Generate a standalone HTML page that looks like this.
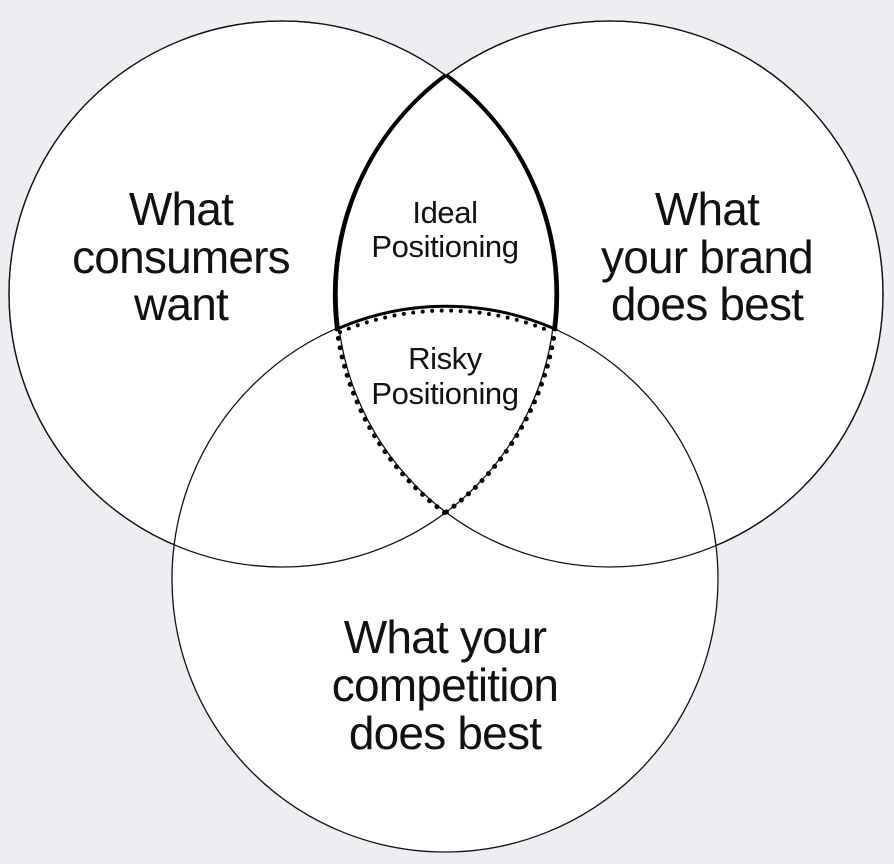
<!DOCTYPE html>
<html><head><meta charset="utf-8"><style>
html,body{margin:0;padding:0;background:#eceef2;}
svg{display:block}
text{font-family:"Liberation Sans",sans-serif;fill:#111;text-anchor:middle}
.b{font-size:46px;letter-spacing:-0.8px}
.s{font-size:31px;letter-spacing:-0.4px}
</style></head><body>
<svg width="894" height="864" viewBox="0 0 894 864" xmlns="http://www.w3.org/2000/svg">
<rect width="894" height="864" fill="#eceef2"/>
<g fill="#fff" stroke="#111" stroke-width="1.3">
<circle cx="282" cy="294" r="273"/>
<circle cx="610" cy="294" r="273"/>
<circle cx="445" cy="579" r="273"/>
</g>
<g fill="none" stroke="#111" stroke-width="1.3">
<circle cx="282" cy="294" r="273"/>
<circle cx="610" cy="294" r="273"/>
</g>
<path d="M446 75 A273 273 0 0 0 337 329" fill="none" stroke="#000" stroke-width="4"/>
<path d="M446 75 A273 273 0 0 1 555 329" fill="none" stroke="#000" stroke-width="4"/>
<path d="M337 329 A273 273 0 0 1 555 329" fill="none" stroke="#000" stroke-width="3"/>
<g fill="none" stroke="#000" stroke-width="5" stroke-linecap="round" stroke-dasharray="0 9.5">
<path d="M337 329 A273 273 0 0 0 445 513"/>
<path d="M555 329 A273 273 0 0 1 445 513"/>
<path d="M340 332 A273 273 0 0 1 552 332" stroke-width="4"/>
</g>
<text class="b" x="181" y="225">What</text>
<text class="b" x="181" y="273">consumers</text>
<text class="b" x="181" y="320">want</text>
<text class="b" x="707" y="225">What</text>
<text class="b" x="707" y="273">your brand</text>
<text class="b" x="707" y="320">does best</text>
<text class="b" x="445" y="653">What your</text>
<text class="b" x="445" y="701">competition</text>
<text class="b" x="445" y="749">does best</text>
<text class="s" x="445" y="223">Ideal</text>
<text class="s" x="445" y="257">Positioning</text>
<text class="s" x="445" y="369">Risky</text>
<text class="s" x="445" y="404">Positioning</text>
</svg>
</body></html>
